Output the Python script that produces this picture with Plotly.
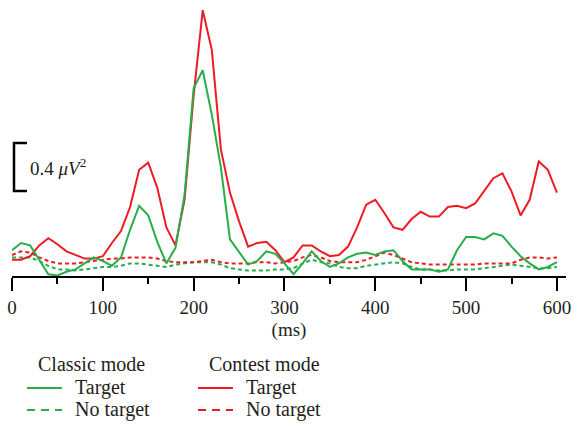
import plotly.graph_objects as go

# time axis (ms)
time_ms = list(range(0, 601, 10))

# power (µV²)
classic_target = [0.29,0.35,0.33,0.21,0.09,0.08,0.11,0.13,0.18,0.23,
                  0.20,0.16,0.23,0.46,0.66,0.58,0.36,0.18,0.31,0.75,
                  1.64,1.79,1.42,0.98,0.38,0.28,0.17,0.20,0.28,0.26,
                  0.18,0.09,0.18,0.28,0.20,0.15,0.18,0.23,0.26,0.27,
                  0.25,0.28,0.29,0.20,0.13,0.13,0.13,0.11,0.13,0.29,
                  0.40,0.40,0.38,0.43,0.41,0.32,0.24,0.18,0.13,0.15,
                  0.19]
classic_notarget = [0.23,0.23,0.23,0.20,0.16,0.13,0.13,0.12,0.13,0.14,
                    0.15,0.15,0.16,0.18,0.18,0.17,0.16,0.15,0.17,0.18,
                    0.19,0.19,0.19,0.17,0.14,0.13,0.12,0.12,0.12,0.13,
                    0.13,0.14,0.18,0.21,0.19,0.18,0.15,0.14,0.14,0.16,
                    0.17,0.18,0.19,0.18,0.15,0.13,0.13,0.12,0.12,0.13,
                    0.13,0.13,0.14,0.15,0.16,0.17,0.16,0.15,0.14,0.14,
                    0.15]
contest_target = [0.21,0.21,0.24,0.33,0.39,0.34,0.28,0.25,0.22,0.22,
                  0.24,0.35,0.45,0.65,0.96,1.02,0.81,0.48,0.33,0.71,
                  1.58,2.29,1.96,1.13,0.77,0.53,0.32,0.35,0.36,0.29,
                  0.19,0.23,0.33,0.33,0.28,0.24,0.25,0.32,0.48,0.67,
                  0.71,0.60,0.48,0.46,0.55,0.61,0.57,0.57,0.65,0.66,
                  0.64,0.68,0.78,0.89,0.93,0.78,0.58,0.71,1.03,0.96,
                  0.77]
contest_notarget = [0.25,0.28,0.27,0.23,0.20,0.18,0.18,0.18,0.19,0.20,
                    0.21,0.22,0.22,0.23,0.23,0.23,0.22,0.20,0.19,0.19,
                    0.19,0.20,0.21,0.19,0.18,0.18,0.18,0.19,0.19,0.18,
                    0.19,0.20,0.23,0.25,0.23,0.20,0.19,0.19,0.19,0.21,
                    0.24,0.27,0.25,0.22,0.19,0.18,0.17,0.17,0.17,0.17,
                    0.17,0.17,0.18,0.18,0.18,0.18,0.21,0.23,0.23,0.22,
                    0.23]

x_ticks = [0, 100, 200, 300, 400, 500, 600]
scale_bar_value = 0.4
scale_bar_base = 0.783

GREEN = "#27AE4A"
RED = "#ED1C24"
INK = "#231F20"
FONT = "Liberation Serif"

W, H = 573, 425
ML, MR, MT, MB = 12, 7, 0, 149
PW = W - ML - MR
PH = H - MT - MB


def px(xp):
    return (xp - ML) / PW


def py(yp):
    return (H - MB - yp) / PH


fig = go.Figure()
fig.add_trace(go.Scatter(x=time_ms, y=classic_notarget, mode="lines",
                         line=dict(color=GREEN, width=2, dash="4px,3px"),
                         name="Classic No target", cliponaxis=False))
fig.add_trace(go.Scatter(x=time_ms, y=contest_notarget, mode="lines",
                         line=dict(color=RED, width=2, dash="4px,3px"),
                         name="Contest No target", cliponaxis=False))
fig.add_trace(go.Scatter(x=time_ms, y=contest_target, mode="lines",
                         line=dict(color=RED, width=2),
                         name="Contest Target", cliponaxis=False))
fig.add_trace(go.Scatter(x=time_ms, y=classic_target, mode="lines",
                         line=dict(color=GREEN, width=2),
                         name="Classic Target", cliponaxis=False))

shapes = []
# scale bar
sb_top = scale_bar_base + scale_bar_value
shapes.append(dict(type="path", xref="paper", yref="y",
                   path=f"M {px(27)},{scale_bar_base} L {px(14)},{scale_bar_base} "
                        f"L {px(14)},{sb_top} L {px(27)},{sb_top}",
                   line=dict(color="black", width=2.5)))

annotations = [dict(x=px(28), y=scale_bar_base + scale_bar_value / 2, xref="paper", yref="y",
                    text="0.4 <i>μV</i><sup>2</sup>",
                    showarrow=False, xanchor="left", yanchor="middle",
                    font=dict(family=FONT, size=19, color=INK))]

# legend (two groups)
groups = [("Classic mode", GREEN, 27), ("Contest mode", RED, 198)]
for title, color, lx in groups:
    annotations.append(dict(x=px(lx + 9), y=py(364), xref="paper", yref="paper",
                            text=title, showarrow=False, xanchor="left", yanchor="middle",
                            font=dict(family=FONT, size=20, color=INK)))
    for label, ycen, dash in [("Target", 387, "solid"), ("No target", 409, "8px,6px")]:
        shapes.append(dict(type="line", xref="paper", yref="paper",
                           x0=px(lx), x1=px(lx + 35), y0=py(ycen + 1), y1=py(ycen + 1),
                           line=dict(color=color, width=2, dash=dash)))
        annotations.append(dict(x=px(lx + 46), y=py(ycen), xref="paper", yref="paper",
                                text=label, showarrow=False, xanchor="left", yanchor="middle",
                                font=dict(family=FONT, size=20, color=INK)))

fig.update_layout(
    width=W, height=H,
    margin=dict(l=ML, r=MR, t=MT, b=MB, autoexpand=False),
    paper_bgcolor="white", plot_bgcolor="white",
    showlegend=False,
    shapes=shapes, annotations=annotations,
    xaxis=dict(range=[0, 610], tickvals=x_ticks, ticktext=[str(v) for v in x_ticks],
               automargin=False,
               showgrid=False, zeroline=False, showline=True, linecolor="black", linewidth=2,
               ticks="outside", ticklen=13, tickwidth=2, tickcolor="black",
               minor=dict(dtick=50, tick0=0, ticks="outside", ticklen=6, tickwidth=2,
                          tickcolor="black", showgrid=False),
               tickfont=dict(family=FONT, size=19, color=INK),
               title=dict(text="(ms)", font=dict(family=FONT, size=19, color=INK), standoff=6)),
    yaxis=dict(range=[0.075, 2.375], visible=False, showgrid=False, zeroline=False,
               automargin=False),
)

fig.write_html("out.html", config={"displayModeBar": False},
               post_script="document.body.style.margin='0';document.body.style.overflow='hidden';")
